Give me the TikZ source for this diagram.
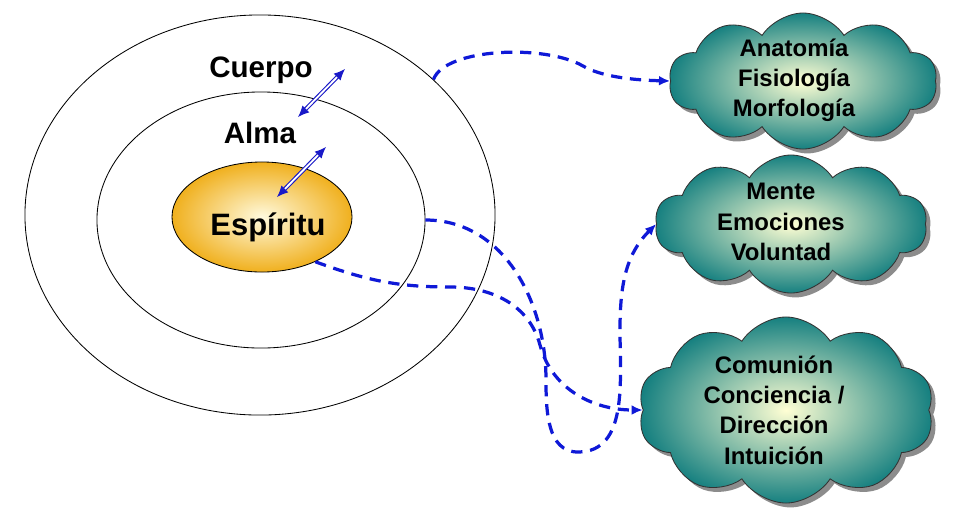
\documentclass[tikz,border=0pt]{standalone}
\usepackage{fontspec}
\setmainfont{Liberation Sans}
\usepackage{tikz}
\usetikzlibrary{arrows.meta, positioning, shapes.geometric, shapes.symbols, shadows}
\usepackage{xcolor}
\definecolor{linkblue}{RGB}{15,25,215}
\definecolor{arrowblue}{RGB}{25,25,200}
\definecolor{cloudteal}{RGB}{22,128,128}
\definecolor{cloudcream}{RGB}{255,255,212}
\definecolor{gold}{RGB}{240,176,30}
\definecolor{goldlight}{RGB}{255,250,222}

\begin{document}
\begin{tikzpicture}[x={(0.025cm,0)}, y={(0,-0.025cm)},
  ring/.style={ellipse, draw, line width=0.6pt, inner sep=0pt},
  lbl/.style={font=\fontsize{21}{24}\selectfont\bfseries, anchor=base},
  nube/.style={cloud, cloud puffs=10, cloud puff arc=115, cloud ignores aspect, inner sep=0pt,
    draw=black!80, line width=0.6pt, inner color=cloudcream, outer color=cloudteal,
    drop shadow={shadow xshift=0.11cm, shadow yshift=-0.11cm, fill=black!45, opacity=1}},
  nubetxt/.style={align=center, font=\fontsize{17}{21.5}\selectfont\bfseries},
  link/.style={linkblue, line width=2.3pt, dash pattern=on 8pt off 5.5pt, -{Latex[length=8pt, width=7pt]}},
  dbl/.style={arrowblue, line width=0.8pt, double=white, double distance=1.3pt,
    {Latex[length=8pt, width=7pt]}-{Latex[length=8pt, width=7pt]}}]
  \useasboundingbox (0,0) rectangle (960,516);

  % rings
  \node[ring, minimum width=11.75cm, minimum height=10cm] (cuerpo) at (260,215) {};
  \node[ring, minimum width=8.2cm, minimum height=6.4cm] (alma) at (261,220) {};
  \node[ring, inner color=goldlight, outer color=gold, minimum width=4.5cm, minimum height=2.75cm] (espiritu) at (262,217) {};

  \node[lbl] (tcuerpo) at (261,77) {Cuerpo};
  \node[lbl] (talma) at (260,143) {Alma};
  \node[lbl, font=\fontsize{22}{24}\selectfont\bfseries] (tespiritu) at (268,235) {Espíritu};

  % double arrows between layers
  \coordinate (a1) at (345,69);
  \coordinate (a2) at (298,117);
  \coordinate (b1) at (326,147);
  \coordinate (b2) at (277,197);
  \draw[dbl] (a1) -- (a2);
  \draw[dbl] (b1) -- (b2);

  % clouds
  \node[nube, minimum width=6.7cm, minimum height=3.4cm] (anat) at (803,81) {};
  \node[nube, minimum width=6.8cm, minimum height=3.45cm] (mente) at (791,224) {};
  \node[nube, minimum width=7.4cm, minimum height=4.65cm] (comun) at (786,410) {};
  \node[nubetxt] (tanat) at (794,80) {Anatomía\\Fisiología\\Morfología};
  \node[nubetxt] (tmente) at (781,222) {Mente\\Emociones\\Voluntad};
  \node[nubetxt] (tcomun) at (774,410) {Comunión\\Conciencia /\\Dirección\\Intuición};

  % links
  \draw[link] (cuerpo.38) .. controls (445,48) and (545,44) .. (583,66)
    .. controls (600,76) and (630,80) .. (anat.west);
  \draw[link] (alma.east) to[out=0, in=90] (546,380) to[out=-90, in=180] (578,452)
    to[out=0, in=-90] (620,330) to[out=90, in=225] (mente.west);
  \draw[link] (espiritu.-40) to[out=-20, in=180] (450,287) to[out=0, in=105] (540,345)
    to[out=-75, in=180] (comun.west);
\end{tikzpicture}
\end{document}
